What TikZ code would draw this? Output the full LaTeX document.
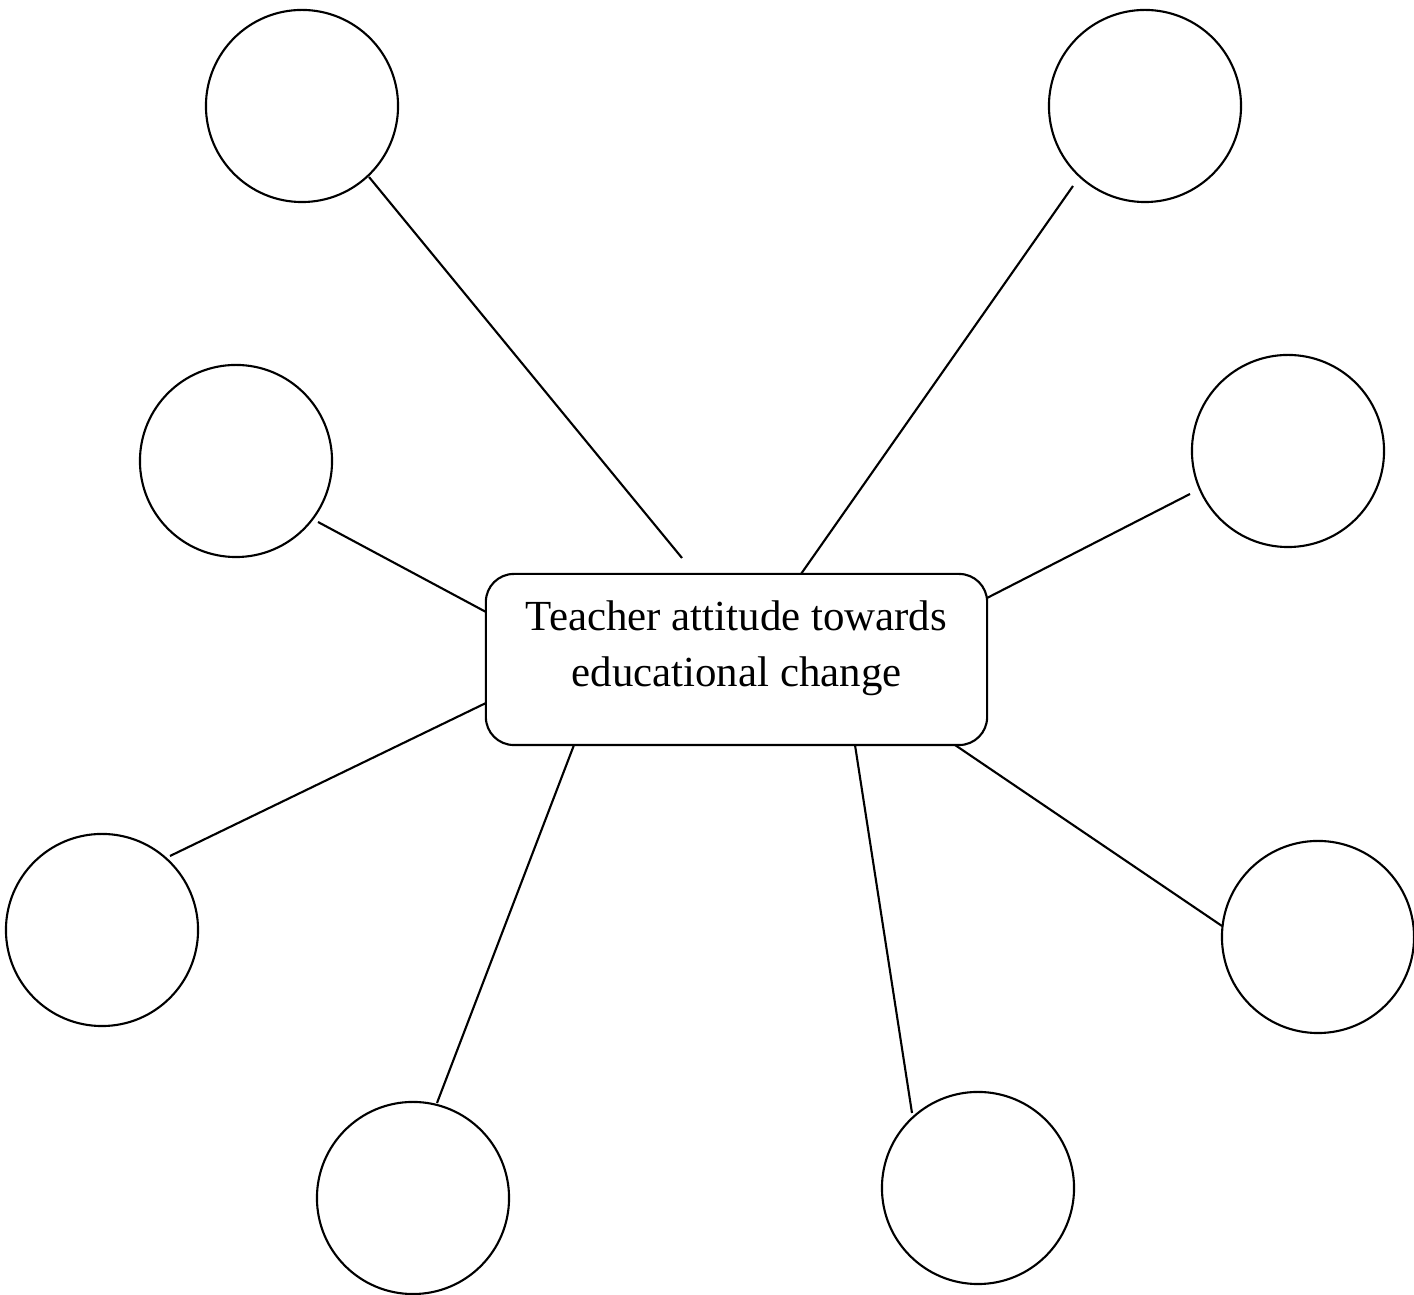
\documentclass[tikz,border=0pt]{standalone}
\usepackage{fontspec}
\setmainfont{Liberation Serif}
\begin{document}
\begin{tikzpicture}[x=0.01cm,y=-0.01cm,
  bubble/.style={draw,circle,line width=0.6pt,minimum size=1.92cm,inner sep=0pt},
  hub/.style={draw,rectangle,rounded corners=0.28cm,line width=0.6pt,
    minimum width=5.01cm,minimum height=1.71cm,align=center,
    font=\fontsize{12.2}{15.9}\selectfont,text depth=8.9pt},
  spoke/.style={line width=0.6pt}]
\useasboundingbox (0,0) rectangle (1414,1295);

% central box
\node[hub] (hub) at (736.5,659.5) {Teacher attitude towards\\educational change};

% surrounding circles
\node[bubble] (c1) at (302,106) {};
\node[bubble] (c2) at (1145,106) {};
\node[bubble] (c3) at (236,461) {};
\node[bubble] (c4) at (1288,451) {};
\node[bubble] (c5) at (102,930) {};
\node[bubble] (c6) at (1318,937) {};
\node[bubble] (c7) at (413,1198) {};
\node[bubble] (c8) at (978,1188) {};

% spoke end points
\coordinate (a1) at (369,177);  \coordinate (b1) at (682,558);
\coordinate (a2) at (1073,186); \coordinate (b2) at (801,574);
\coordinate (a3) at (318,522);  \coordinate (b3) at (486,612);
\coordinate (a4) at (1190,494); \coordinate (b4) at (987,598);
\coordinate (a5) at (170,856);  \coordinate (b5) at (486,703);
\coordinate (a6) at (1222,926); \coordinate (b6) at (955,745);
\coordinate (a7) at (437,1103); \coordinate (b7) at (574,745);
\coordinate (a8) at (912,1113); \coordinate (b8) at (855,745);

\foreach \i in {1,...,8} \draw[spoke] (a\i) -- (b\i);
\end{tikzpicture}
\end{document}
